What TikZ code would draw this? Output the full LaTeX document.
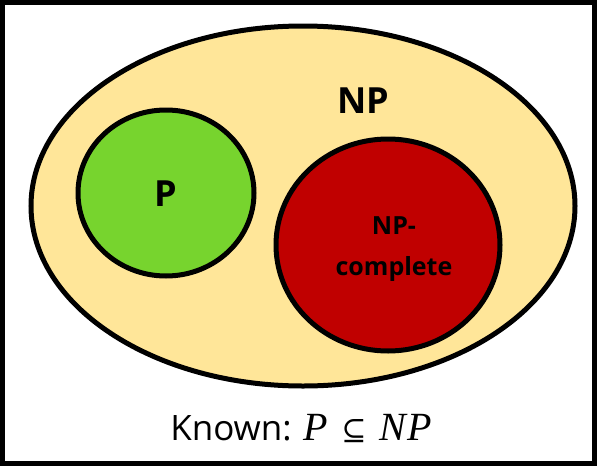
\documentclass[tikz,border=0pt]{standalone}
\usepackage{fontspec}
\usetikzlibrary{shapes.geometric}
\setmainfont{Open Sans}
\newfontfamily\mathserif{Liberation Serif}
\newfontfamily\symserif{DejaVu Serif}
\definecolor{npyellow}{HTML}{FFE699}
\definecolor{pgreen}{HTML}{77D42E}
\definecolor{npcred}{HTML}{C00000}
\begin{document}
\begin{tikzpicture}[x=1pt,y=-1pt,
  setshape/.style={draw=black,line width=5pt,ellipse,inner sep=0pt},
  bigtext/.style={font=\fontsize{36}{40}\selectfont\bfseries},
  midtext/.style={font=\fontsize{25}{41}\selectfont\bfseries,align=center}]
\useasboundingbox (0,0) rectangle (597,466);
\draw[line width=5pt] (2.5,2.5) rectangle (594.5,463.5);
\node[setshape,fill=npyellow,minimum width=544pt,minimum height=360pt] (npset) at (303,206) {};
\node[setshape,fill=pgreen,minimum width=176pt,minimum height=166pt] (pset) at (166,193) {};
\node[setshape,fill=npcred,minimum width=224pt,minimum height=212pt] (npcset) at (388,245) {};
\node[bigtext] (nplabel) at (363,101) {NP};
\node[bigtext] (plabel) at (166,194) {P};
\node[midtext] (npclabel) at (394,249) {NP-\\complete};
\node[font=\fontsize{35}{40}\selectfont] (known) at (301,428) {Known: {\mathserif\itshape\fontsize{40}{44}\selectfont P}\hspace{4pt} {\symserif\fontsize{30}{40}\selectfont ⊆}\hspace{4pt} {\mathserif\itshape\fontsize{40}{44}\selectfont N\kern1pt P}};
\end{tikzpicture}
\end{document}
